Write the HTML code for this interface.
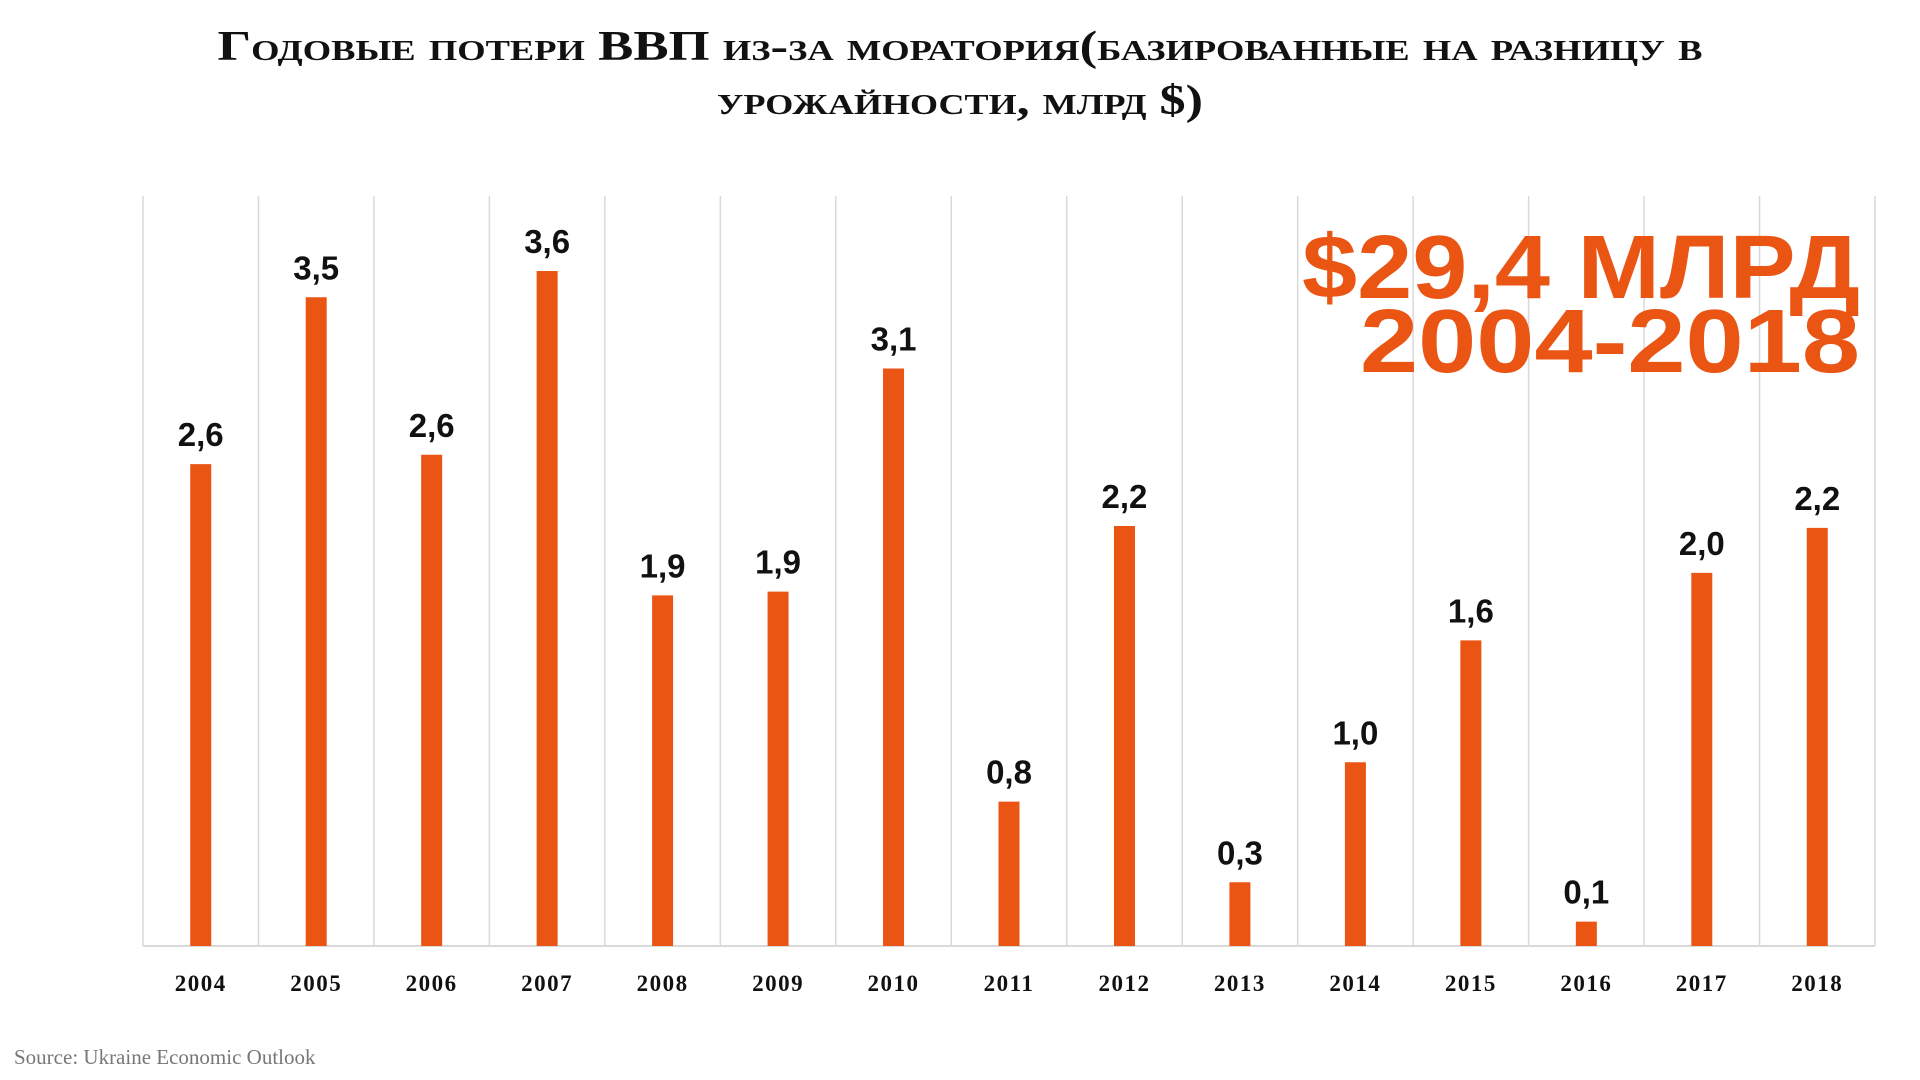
<!DOCTYPE html>
<html><head><meta charset="utf-8">
<style>
html,body{margin:0;padding:0;background:#fff;}
svg{display:block;}
</style></head>
<body>
<svg id="chart" width="1920" height="1080" viewBox="0 0 1920 1080" xmlns="http://www.w3.org/2000/svg">
  <text x="960" y="60" text-anchor="middle" textLength="1485" lengthAdjust="spacingAndGlyphs" font-family="'Liberation Serif', serif" font-weight="bold" font-size="42" style="font-variant:small-caps" fill="#111">Годовые потери ВВП из-за моратория(базированные на разницу в</text>
  <text x="960" y="114" text-anchor="middle" textLength="486" lengthAdjust="spacingAndGlyphs" font-family="'Liberation Serif', serif" font-weight="bold" font-size="42" style="font-variant:small-caps" fill="#111">урожайности, млрд $)</text>
  <g id="grid"></g>
  <g id="bars"></g>
  <g id="labels"></g>
  <g id="xaxis"></g>
  <text x="1302" y="298" textLength="558" lengthAdjust="spacingAndGlyphs" font-family="'Liberation Sans', sans-serif" font-weight="bold" font-size="90" fill="#EA5514">$29,4 МЛРД</text>
  <text x="1360" y="372" textLength="500" lengthAdjust="spacingAndGlyphs" font-family="'Liberation Sans', sans-serif" font-weight="bold" font-size="90" fill="#EA5514">2004-2018</text>
  <text x="14" y="1064" font-family="'Liberation Serif', serif" font-size="21" fill="#777">Source: Ukraine Economic Outlook</text>
</svg>
<script>
const categories = ["2004","2005","2006","2007","2008","2009","2010","2011","2012","2013","2014","2015","2016","2017","2018"];
const values = [2.57, 3.46, 2.62, 3.6, 1.87, 1.89, 3.08, 0.77, 2.24, 0.34, 0.98, 1.63, 0.13, 1.99, 2.23];
const valueLabels = ["2,6","3,5","2,6","3,6","1,9","1,9","3,1","0,8","2,2","0,3","1,0","1,6","0,1","2,0","2,2"];

const NS = "http://www.w3.org/2000/svg";
const left = 143, right = 1875, baseY = 946, topY = 196, pxPerUnit = 187.5;
const band = (right - left) / categories.length;
const xCenter = i => left + band * (i + 0.5);
const yScale = v => baseY - v * pxPerUnit;
function mk(tag, attrs, parent){const e=document.createElementNS(NS,tag);for(const k in attrs)e.setAttribute(k,attrs[k]);parent.appendChild(e);return e;}

const grid = document.getElementById('grid');
for (let i = 0; i <= categories.length; i++) {
  const x = left + band * i;
  const l = mk('line', {x1:x, x2:x, y1:topY, y2:baseY, stroke:'#d9d9d9', 'stroke-width':1.5}, grid);
  
  
}
const axis = mk('line', {x1:left, x2:right, y1:baseY, y2:baseY, stroke:'#d9d9d9', 'stroke-width':2}, grid);



const bars = document.getElementById('bars'), labels = document.getElementById('labels'), xaxis = document.getElementById('xaxis');
values.forEach((v, i) => {
  const x = xCenter(i), y = yScale(v);
  const r = mk('rect', {x:x - 10.5, y:y, width:21, height:baseY - y, fill:'#EA5514'}, bars);
  
  
  const t = mk('text', {x:x, y:y - 18, 'text-anchor':'middle', 'font-family':"'Liberation Sans Narrow','Liberation Sans',sans-serif", 'font-weight':'bold', 'font-size':33, fill:'#111'}, labels);
  t.textContent = valueLabels[i];
  
  
  const c = mk('text', {x:x, y:991, 'text-anchor':'middle', 'font-family':"'Liberation Serif',serif", 'font-weight':'bold', 'font-size':23, fill:'#111', 'letter-spacing':'1.5'}, xaxis);
  c.textContent = categories[i];
  
  
});
</script>
</body></html>
